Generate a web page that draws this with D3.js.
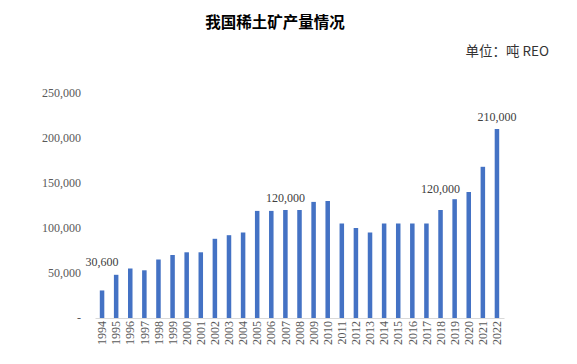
<!DOCTYPE html>
<html>
<head>
<meta charset="utf-8">
<script src="https://cdn.jsdelivr.net/npm/d3@7"></script>
<style>
  body { margin: 0; background: #fff; }
  svg { display: block; }
</style>
</head>
<body>
<div id="chart"></div>
<script>
// data (tonnes REO)
const years = ['1994','1995','1996','1997','1998','1999','2000','2001','2002','2003','2004','2005','2006','2007','2008','2009','2010','2011','2012','2013','2014','2015','2016','2017','2018','2019','2020','2021','2022'];
const output = [30600,48000,55000,53000,65000,70000,73000,73000,88000,92000,95000,119000,119000,120000,120000,129000,130000,105000,100000,95000,105000,105000,105000,105000,120000,132000,140000,168000,210000];
const yTicks = [0,50000,100000,150000,200000,250000];
// labelled bars and how far above the bar the label sits
const labelled = { '1994': 28, '2007': 12, '2018': 21, '2022': 12 };

const width = 577, height = 364;
const margin = { left: 95, right: 73, top: 93, bottom: 46 };

const svg = d3.select('#chart').append('svg')
  .attr('width', width)
  .attr('height', height);

const x = d3.scaleBand()
  .domain(years)
  .range([margin.left, width - margin.right])
  .paddingInner(0.68)
  .paddingOuter(0.34);

const y = d3.scaleLinear()
  .domain([0, 250000])
  .range([height - margin.bottom, margin.top]);

// title + unit
svg.append('text')
  .attr('x', 275).attr('y', 28)
  .attr('text-anchor', 'middle')
  .attr('font-family', '"Noto Sans CJK SC", sans-serif')
  .attr('font-weight', 'bold')
  .attr('font-size', 15.5)
  .attr('fill', '#000')
  .text('我国稀土矿产量情况');

svg.append('text')
  .attr('x', 549).attr('y', 56)
  .attr('text-anchor', 'end')
  .attr('font-family', '"Noto Sans CJK SC", "Liberation Sans", sans-serif')
  .attr('font-size', 13.5)
  .attr('fill', '#333')
  .text('单位：吨 REO');

// y axis labels (no line)
const yAxis = svg.append('g')
  .attr('transform', `translate(${margin.left - 14},0)`)
  .call(d3.axisLeft(y).tickValues(yTicks).tickSize(0)
    .tickFormat(d => d === 0 ? '-' : d3.format(',')(d)));
yAxis.attr('font-family', null);
yAxis.select('.domain').remove();
yAxis.selectAll('text')
  .attr('font-family', '"Liberation Serif", serif')
  .attr('font-size', 12)
  .attr('fill', '#595959')
  .attr('x', 0)
  .attr('dy', '0.32em');

// bars
svg.append('g')
  .selectAll('rect')
  .data(years)
  .enter().append('rect')
  .attr('x', d => x(d))
  .attr('y', (d, i) => y(output[i]))
  .attr('width', x.bandwidth())
  .attr('height', (d, i) => y(0) - y(output[i]))
  .attr('fill', '#4472C4');

// x axis
const xAxis = svg.append('g')
  .attr('transform', `translate(0,${y(0)})`)
  .call(d3.axisBottom(x).tickSize(0));
xAxis.attr('font-family', null);
xAxis.select('.domain').attr('stroke', '#d9d9d9');
xAxis.selectAll('text')
  .attr('font-family', '"Liberation Serif", serif')
  .attr('font-size', 12)
  .attr('fill', '#595959')
  .attr('transform', 'rotate(-90)')
  .attr('text-anchor', 'end')
  .attr('x', -3)
  .attr('y', 0)
  .attr('dy', '0.35em');

// data labels
svg.append('g')
  .selectAll('text')
  .data(years.filter(d => d in labelled))
  .enter().append('text')
  .attr('x', d => x(d) + x.bandwidth() / 2)
  .attr('y', d => y(output[years.indexOf(d)]) - labelled[d] + 4)
  .attr('text-anchor', 'middle')
  .attr('font-family', '"Liberation Serif", serif')
  .attr('font-size', 12)
  .attr('fill', '#404040')
  .text(d => d3.format(',')(output[years.indexOf(d)]));
</script>
</body>
</html>
